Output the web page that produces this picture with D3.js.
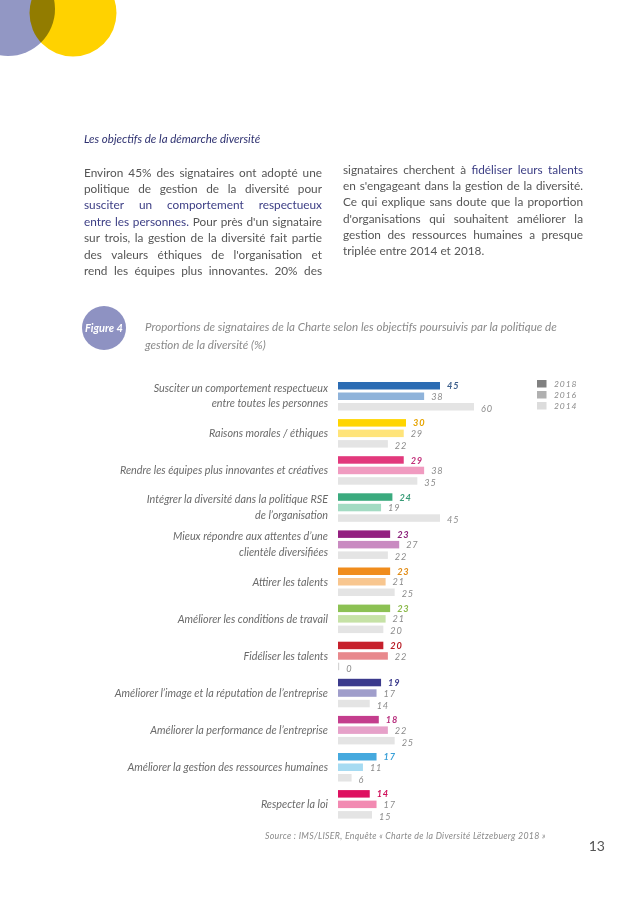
<!DOCTYPE html>
<html><head><meta charset="utf-8">
<script src="https://cdn.jsdelivr.net/npm/d3@7/dist/d3.min.js"></script>
<style>
html,body{margin:0;padding:0;background:#fff;}
svg{display:block;}
text{font-family:Lato,"Open Sans",sans-serif;}
</style></head>
<body>
<svg id="page" width="638" height="901"></svg>
<script>
// ---------- DATA ----------
const categories = [
  ["Susciter un comportement respectueux","entre toutes les personnes"],
  ["Raisons morales / éthiques"],
  ["Rendre les équipes plus innovantes et créatives"],
  ["Intégrer la diversité dans la politique RSE","de l’organisation"],
  ["Mieux répondre aux attentes d’une","clientèle diversifiées"],
  ["Attirer les talents"],
  ["Améliorer les conditions de travail"],
  ["Fidéliser les talents"],
  ["Améliorer l’image et la réputation de l’entreprise"],
  ["Améliorer la performance de l’entreprise"],
  ["Améliorer la gestion des ressources humaines"],
  ["Respecter la loi"]
];
const years = ["2018","2016","2014"];
const values2018 = [45,30,29,24,23,23,23,20,19,18,17,14];
const values2016 = [38,29,38,19,27,21,21,22,17,22,11,17];
const values2014 = [60,22,35,45,22,25,20,0,14,25,6,15];
const colors2018 = ["#2b6cb3","#ffd500","#e2387c","#3aaa7e","#931f80","#f08c1c","#8cc153","#c6202b","#3b3a8c","#c43d8d","#45a9de","#de1060"];
const colors2016 = ["#8fb3da","#ffe47a","#f09bc0","#a3dbc3","#c98bc1","#f8c68f","#c6e2a6","#e8898d","#a09ecb","#e6a1c9","#a6dbf2","#f28ab2"];
const color2014 = "#e4e4e4";
const labelColors2018 = ["#3e5f8c","#e6a400","#c2307a","#3a9c78","#8a1f7a","#e08a12","#8ab848","#b81c24","#3c3b8c","#b8307e","#3aa0d8","#d0105a"];
const legendColors = ["#808080","#b0b0b0","#dcdcdc"];

const heading = "Les objectifs de la démarche diversité";
const leftLines = [
  [["Environ 45% des signataires ont adopté une","g"]],
  [["politique de gestion de la diversité pour","g"]],
  [["susciter un comportement respectueux","b"]],
  [["entre les personnes.","b"],["Pour près d'un signataire","g"]],
  [["sur trois, la gestion de la diversité fait partie","g"]],
  [["des valeurs éthiques de l'organisation et","g"]],
  [["rend les équipes plus innovantes. 20% des","g"]]
];
const rightLines = [
  [["signataires cherchent à","g"],["fidéliser leurs talents","b"]],
  [["en s'engageant dans la gestion de la diversité.","g"]],
  [["Ce qui explique sans doute que la proportion","g"]],
  [["d'organisations qui souhaitent améliorer la","g"]],
  [["gestion des ressources humaines a presque","g"]],
  [["triplée entre 2014 et 2018.","g"]]
];
const figTitle = ["Proportions de signataires de la Charte selon les objectifs poursuivis par la politique de","gestion de la diversité (%)"];
const sourceText = "Source : IMS/LISER, Enquête « Charte de la Diversité Lëtzebuerg 2018 »";
const pageNum = "13";

// ---------- DRAW ----------
const svg = d3.select("#page");

// decorative circles
const deco = svg.append("g");
deco.append("circle").attr("cx",8).attr("cy",9).attr("r",47).attr("fill","#9297c4");
deco.append("circle").attr("cx",73).attr("cy",13).attr("r",43.5).attr("fill","#ffd200").style("mix-blend-mode","multiply");

// heading
svg.append("text").attr("x",84).attr("y",143).attr("font-size",11.5).attr("font-style","italic")
  .attr("fill","#2e3170").text(heading);

// justified paragraphs
const textCol = {g:"#555555", b:"#3b3d84"};
function para(lines, x0, width, y0, lh, lastJustified){
  lines.forEach((segs,i)=>{
    const y = y0 + i*lh;
    const words = [];
    segs.forEach(([t,c])=> t.split(" ").forEach(w=>words.push({w,c})));
    const g = svg.append("g");
    const nodes = words.map(o=> g.append("text").attr("y",y).attr("font-size",11.8)
        .attr("fill",textCol[o.c]).text(o.w));
    const widths = nodes.map(n=>n.node().getComputedTextLength());
    const total = d3.sum(widths);
    const justify = (i < lines.length-1) || lastJustified;
    const gap = justify && words.length>1 ? (width-total)/(words.length-1) : 3.2;
    let x = x0;
    nodes.forEach((n,k)=>{ n.attr("x",x); x += widths[k]+gap; });
  });
}
para(leftLines, 84, 238, 176.5, 16.4, true);
para(rightLines, 343, 240, 174, 16.2, false);

// Figure badge
svg.append("circle").attr("cx",104).attr("cy",328).attr("r",22).attr("fill","#8e92c2");
svg.append("text").attr("x",104).attr("y",332).attr("text-anchor","middle").attr("font-size",11)
  .attr("font-style","italic").attr("font-weight","bold").attr("fill","#fff").text("Figure 4");
figTitle.forEach((t,i)=> svg.append("text").attr("x",145).attr("y",331+i*17.5).attr("font-size",11.6)
  .attr("font-style","italic").attr("fill","#8a8a8a").text(t));

// chart scales
const x = d3.scaleLinear().domain([0,60]).range([338,474]);
const yGroup = d3.scaleBand().domain(d3.range(categories.length)).range([382, 382+12*37.1]).padding(0);
const yInner = d3.scaleBand().domain(years).range([0,28.5]).paddingInner(0.286).paddingOuter(0);

const series = {"2018":values2018,"2016":values2016,"2014":values2014};
const chart = svg.append("g");

categories.forEach((lab,i)=>{
  const g = chart.append("g").attr("transform",`translate(0,${yGroup(i)})`);
  years.forEach((yr,k)=>{
    const v = series[yr][i];
    const fill = yr==="2018"? colors2018[i] : yr==="2016"? colors2016[i] : color2014;
    const w = Math.max(x(v)-x(0), 1.2);
    g.append("rect").attr("x",x(0)).attr("y",yInner(yr)).attr("width",w)
      .attr("height",yInner.bandwidth()).attr("fill", v===0? "#d4d4d4":fill);
    g.append("text").attr("x",x(0)+w+7).attr("y",yInner(yr)+yInner.bandwidth()/2+3.6+(k===2?1.5:0))
      .attr("font-size",9.2).attr("font-style","italic").attr("letter-spacing",0.8)
      .attr("font-weight", yr==="2018"?"bold":"normal")
      .attr("fill", yr==="2018"? labelColors2018[i] : "#8c8c8c").text(v);
  });
  const cy = yInner(years[1]) + yInner.bandwidth()/2;
  if(lab.length===1){
    g.append("text").attr("x",328).attr("y",cy+3.8).attr("text-anchor","end").attr("font-size",10.8)
      .attr("font-style","italic").attr("fill","#6a6a6a").text(lab[0]);
  } else {
    lab.forEach((t,j)=> g.append("text").attr("x",328).attr("y",cy-7.8+j*15.5+3.5).attr("text-anchor","end")
      .attr("font-size",10.8).attr("font-style","italic").attr("fill","#6a6a6a").text(t));
  }
});

// legend
const legend = svg.append("g");
years.forEach((yr,k)=>{
  legend.append("rect").attr("x",537).attr("y",380+k*11).attr("width",9.5).attr("height",7.5).attr("fill",legendColors[k]);
  legend.append("text").attr("x",554).attr("y",387+k*11).attr("font-size",8.5).attr("font-style","italic")
    .attr("letter-spacing",0.9).attr("fill","#8c8c8c").text(yr);
});

// source & page number
svg.append("text").attr("x",265).attr("y",839).attr("font-size",8.8).attr("font-style","italic")
  .attr("letter-spacing",0.3).attr("fill","#8a8a8a").text(sourceText);
svg.append("text").attr("x",605).attr("y",851).attr("text-anchor","end").attr("font-size",14)
  .attr("fill","#555").text(pageNum);
</script>
</body></html>
